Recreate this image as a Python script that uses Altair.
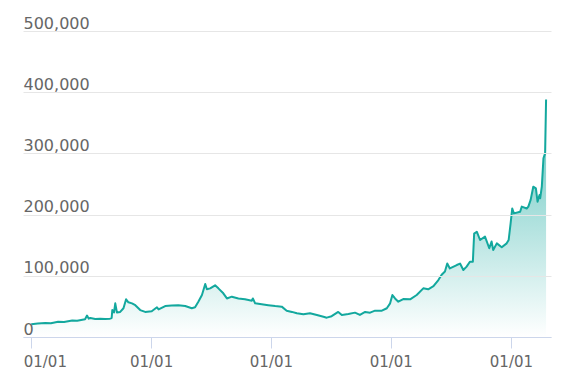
import altair as alt
import pandas as pd

# x positions as days since 2017-01-01, values in thousands
day_offsets = [0, 20, 43, 60, 82, 100, 125, 140, 164, 170, 175, 180, 195, 210, 225, 240,
               245, 247, 252, 256, 261, 271, 281, 289, 296, 307, 317, 332, 347, 367, 383,
               388, 408, 428, 448, 469, 489, 499, 509, 520, 530, 535, 545, 560, 570, 585,
               596, 611, 631, 651, 672, 675, 682, 702, 722, 743, 763, 778, 794, 809, 829,
               849, 870, 890, 900, 915, 935, 946, 966, 986, 1001, 1017, 1032, 1047, 1068,
               1083, 1093, 1100, 1108, 1118, 1133, 1154, 1174, 1194, 1209, 1225, 1240,
               1250, 1260, 1267, 1275, 1296, 1306, 1316, 1326, 1336, 1345, 1349, 1357,
               1367, 1382, 1395, 1402, 1407, 1418, 1433, 1448, 1454, 1460, 1465, 1470,
               1489, 1494, 1509, 1514, 1521, 1529, 1537, 1542, 1548, 1550, 1555, 1560,
               1565, 1568]
values_k = [21, 22, 23, 22.5, 25, 24.5, 27, 26.5, 29, 35, 30, 31, 29.5, 30, 29.5, 30,
            31, 44, 40, 55, 40, 41, 47, 61.6, 56.7, 55, 52, 44, 41, 42, 48.5,
            45, 50.6, 51.6, 52, 50.6, 47, 48.5, 57.7, 68.6, 86.6, 78, 79.5, 84.5, 79.5, 71.4,
            63, 65.9, 63, 61.6, 59.4, 63, 55, 53.5, 52, 50.6, 49.6, 43, 41, 38.7, 37,
            38.7, 36, 33, 31.6, 34, 41, 36, 37.5, 39.8, 36, 41, 39.8, 43, 43,
            47, 55, 68.6, 63, 57.7, 62, 61.6, 68.6, 79.5, 78, 83, 93,
            101.7, 107, 120, 112, 117.6, 120, 109.5, 115, 123, 123, 169, 172,
            158.5, 164, 145, 156, 142, 153, 146.6, 153, 158.5, 185.8, 210, 202,
            204.7, 213, 210, 213, 224, 245.6, 243, 221, 232, 226.6, 245.6, 292,
            300, 388]

start = pd.Timestamp("2017-01-01")
dates = [(start + pd.Timedelta(days=int(d))).strftime("%Y-%m-%d") for d in day_offsets]
df = pd.DataFrame({"date": dates, "value": [v * 1000 for v in values_k]})

tick_years = [2017, 2018, 2019, 2020, 2021]
y_ticks = [0, 100000, 200000, 300000, 400000, 500000]

LINE = "#13a89e"
FONT = "DejaVu Sans"
LABEL = "#666666"
AXISLINE = "#ccd6eb"

x_enc = alt.X(
    "date:T",
    scale=alt.Scale(
        type="utc",
        domain=[alt.DateTime(year=2016, month=12, date=7, utc=True),
                alt.DateTime(year=2021, month=5, date=3, utc=True)],
    ),
    axis=alt.Axis(
        values=[alt.DateTime(year=y, month=1, date=1, utc=True) for y in tick_years],
        labelExpr="utcFormat(datum.value, '%m/%d')",
        grid=False,
        domainColor=AXISLINE,
        tickColor=AXISLINE,
        tickSize=11,
        labelFont=FONT,
        labelFontSize=15,
        labelColor=LABEL,
        labelPadding=6,
        labelOverlap=False,
        labelAlign={"condition": {"test": "datum.index == 0", "value": "left"}, "value": "center"},
        labelOffset={"condition": {"test": "datum.index == 0", "value": -8}, "value": 0},
        title=None,
        zindex=1,
    ),
)

y_enc = alt.Y(
    "value:Q",
    scale=alt.Scale(domain=[0, 500000], nice=False),
    axis=alt.Axis(
        values=y_ticks,
        labelExpr="format(datum.value, ',')",
        orient="left",
        labelAlign="left",
        labelBaseline="alphabetic",
        labelOffset=-3,
        labelPadding=0,
        ticks=False,
        tickSize=0,
        domain=False,
        grid=True,
        gridColor="#e6e6e6",
        labelFont=FONT,
        labelFontSize=16,
        labelColor=LABEL,
        title=None,
        zindex=1,
    ),
)

chart = alt.Chart(df).mark_area(
    color=alt.Gradient(
        gradient="linear",
        stops=[alt.GradientStop(color=LINE, offset=0),
               alt.GradientStop(color="rgba(19,168,158,0)", offset=1)],
        x1=1, x2=1, y1=0, y2=1,
    ),
    line=alt.OverlayMarkDef(color=LINE, strokeWidth=2, strokeJoin="round"),
).encode(x=x_enc, y=y_enc).properties(
    width=528,
    height=306,
    padding={"left": 23, "top": 31, "right": 16, "bottom": 50},
    autosize=alt.AutoSizeParams(type="none"),
).configure_view(stroke=None)

chart.save("out.html", embed_options={"renderer": "svg", "actions": False})
